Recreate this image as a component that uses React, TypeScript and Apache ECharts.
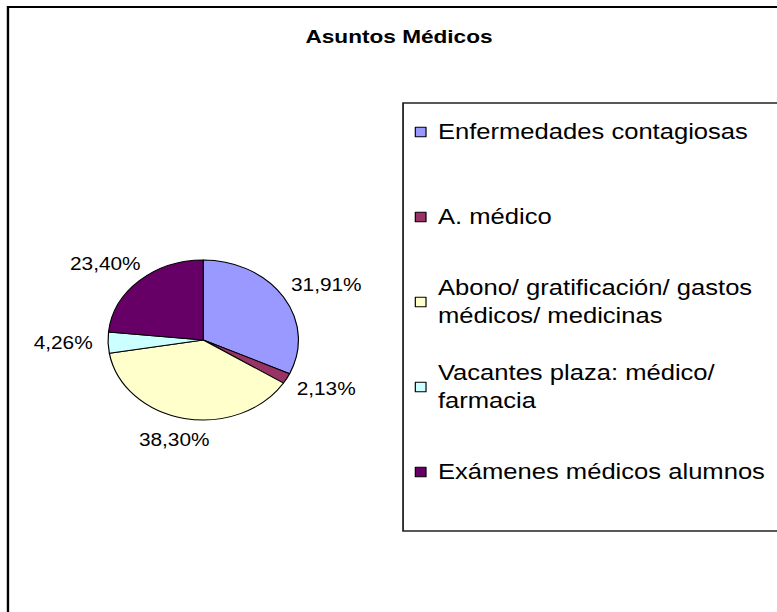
import React, { useEffect, useRef } from 'react';
import * as echarts from 'echarts';

const TITLE = 'Asuntos Médicos';
const categories = [
  'Enfermedades contagiosas',
  'A. médico',
  'Abono/ gratificación/ gastos médicos/ medicinas',
  'Vacantes plaza: médico/ farmacia',
  'Exámenes médicos alumnos',
];
const legendLines = [
  'Enfermedades contagiosas',
  'A. médico',
  'Abono/ gratificación/ gastos\nmédicos/ medicinas',
  'Vacantes plaza: médico/\nfarmacia',
  'Exámenes médicos alumnos',
];
const counts = [15, 1, 18, 2, 11];
const colors = ['#9999FF', '#993366', '#FFFFCC', '#CCFFFF', '#660066'];

// The reference is horizontally stretched; draw unstretched and scale the canvas.
const SX = 1.19;
const W = 777 / SX;
const H = 612;
const CX = 170.8;
const CY = 340;
const R = 80;
const GAP = 13;
const LINE = 28;
const FONT = '"Liberation Sans", Arial, sans-serif';

export default function App() {
  const ref = useRef<HTMLDivElement>(null);
  useEffect(() => {
    const chart = echarts.init(ref.current as HTMLDivElement, null, { renderer: 'svg' });
    const total = counts.reduce((a, b) => a + b, 0);
    const mids: number[] = [];
    let cum = 0;
    counts.forEach((v) => {
      mids.push((2 * Math.PI * (cum + v / 2)) / total);
      cum += v;
    });
    chart.setOption({
      animation: false,
      backgroundColor: '#ffffff',
      color: colors,
      title: {
        text: TITLE,
        left: 335.3,
        top: 27,
        textAlign: 'center',
        padding: 0,
        textStyle: { fontFamily: FONT, fontSize: 19, fontWeight: 'bold', color: '#000' },
      },
      graphic: [
        {
          type: 'rect',
          silent: true,
          shape: { x: 6.7, y: 7, width: 1000, height: 1000 },
          style: { fill: 'none', stroke: '#000', lineWidth: 2 },
        },
        {
          type: 'rect',
          silent: true,
          shape: { x: 338.7, y: 103, width: 600, height: 428 },
          style: { fill: 'none', stroke: '#222', lineWidth: 1.5 },
        },
      ],
      legend: {
        orient: 'vertical',
        left: 348.5,
        top: 90,
        padding: 0,
        itemGap: 1,
        itemWidth: 9,
        itemHeight: 9.5,
        icon: 'rect',
        selectedMode: false,
        itemStyle: { borderColor: '#000', borderWidth: 1 },
        textStyle: {
          fontFamily: FONT,
          fontSize: 21.5,
          color: '#000',
          lineHeight: LINE,
          backgroundColor: 'rgba(0,0,0,0)',
        },
        formatter: (name: string) => legendLines[categories.indexOf(name)],
        data: categories.map((name, i) => {
          const n = legendLines[i].split('\n').length;
          return { name, textStyle: { padding: [LINE, 0, (2 - n) * LINE, 5] } };
        }),
      },
      series: [
        {
          type: 'pie',
          center: [CX, CY],
          radius: R,
          startAngle: 90,
          clockwise: true,
          silent: true,
          data: categories.map((name, i) => ({ name, value: counts[i] })),
          itemStyle: { borderColor: '#000', borderWidth: 1 },
          label: {
            show: true,
            position: 'outside',
            overflow: 'none',
            edgeDistance: 0,
            fontFamily: FONT,
            fontSize: 17.5,
            color: '#000',
            formatter: (p: any) => p.percent.toFixed(2).replace('.', ',') + '%',
          },
          labelLine: { show: false },
          labelLayout: (p: any) => {
            const a = mids[p.dataIndex];
            const nx = Math.sin(a);
            const ny = -Math.cos(a);
            const w = p.labelRect.width;
            const h = p.labelRect.height;
            return {
              x: CX + nx * (R + GAP) + (nx * w) / 2,
              y: CY + ny * (R + GAP) + (ny * h) / 2,
              align: 'center',
              verticalAlign: 'middle',
            };
          },
          emphasis: { disabled: true },
        },
      ],
    });
    return () => chart.dispose();
  }, []);
  return (
    <div
      ref={ref}
      style={{
        position: 'fixed',
        left: 0,
        top: 0,
        width: W,
        height: H,
        transform: `scaleX(${SX})`,
        transformOrigin: '0 0',
      }}
    />
  );
}
